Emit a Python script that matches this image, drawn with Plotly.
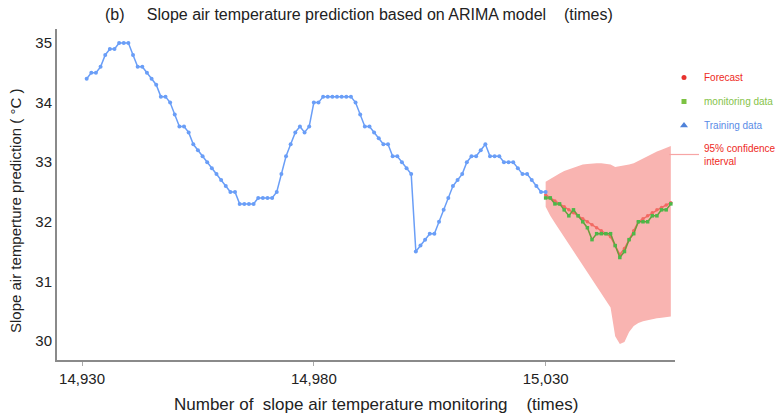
import plotly.graph_objects as go

# ---------------- data ----------------
train_x = list(range(14931, 15031))
train_y = [
    34.4, 34.5, 34.5, 34.6, 34.8, 34.9, 34.9, 35.0, 35.0, 35.0,
    34.8, 34.6, 34.6, 34.5, 34.4, 34.3, 34.1, 34.1, 34.0, 33.8,
    33.6, 33.6, 33.5, 33.3, 33.2, 33.1, 33.0, 32.9, 32.8, 32.7,
    32.6, 32.5, 32.5, 32.3, 32.3, 32.3, 32.3, 32.4, 32.4, 32.4,
    32.4, 32.5, 32.8, 33.1, 33.3, 33.5, 33.6, 33.5, 33.6, 34.0,
    34.0, 34.1, 34.1, 34.1, 34.1, 34.1, 34.1, 34.1, 34.0, 33.8,
    33.6, 33.6, 33.5, 33.4, 33.3, 33.3, 33.1, 33.1, 33.0, 32.9,
    32.8, 31.5, 31.6, 31.7, 31.8, 31.8, 32.0, 32.2, 32.4, 32.6,
    32.7, 32.8, 33.0, 33.1, 33.1, 33.2, 33.3, 33.1, 33.1, 33.1,
    33.0, 33.0, 33.0, 32.9, 32.8, 32.8, 32.7, 32.6, 32.5, 32.5,
]

fc_x = list(range(15030, 15058))
monitor_y = [
    32.4, 32.4, 32.3, 32.3, 32.2, 32.1, 32.2, 32.1, 32.0, 31.9,
    31.7, 31.8, 31.8, 31.8, 31.8, 31.6, 31.4, 31.5, 31.7, 31.8,
    32.0, 32.0, 32.0, 32.1, 32.1, 32.2, 32.2, 32.3,
]
forecast_y = [
    32.45, 32.40, 32.35, 32.30, 32.25, 32.20, 32.15, 32.10, 32.05, 32.00,
    31.95, 31.90, 31.85, 31.80, 31.75, 31.60, 31.45, 31.55, 31.70, 31.85,
    32.00, 32.05, 32.10, 32.15, 32.20, 32.24, 32.28, 32.32,
]
ci_upper = [
    32.67, 32.72, 32.77, 32.81, 32.85, 32.88, 32.91, 32.94, 32.96, 32.97,
    32.98, 32.98, 32.98, 32.97, 32.96, 32.92, 32.93, 32.95, 32.96, 32.98,
    33.02, 33.06, 33.10, 33.15, 33.18, 33.21, 33.24, 33.27,
]
ci_lower = [
    32.25, 32.10, 31.98, 31.86, 31.75, 31.62, 31.52, 31.40, 31.28, 31.15,
    31.03, 30.90, 30.78, 30.66, 30.56, 30.08, 29.95, 29.98, 30.15, 30.25,
    30.30, 30.33, 30.35, 30.36, 30.38, 30.39, 30.40, 30.41,
]

x_ticks = [14930, 14980, 15030]
x_ticklabels = ["14,930", "14,980", "15,030"]
y_ticks = [30, 31, 32, 33, 34, 35]

# ---------------- styles ----------------
BLUE = "#6A9EF7"
GREEN_LINE = "#6E9A3C"
GREEN_MK = "#4CB848"
RED = "#F26A63"
RED_TXT = "#EE2A24"
BAND = "#F9B4B1"
FONT = "Liberation Sans, Arial, sans-serif"
W, H = 782, 415
L, R, T, B = 57, 107, 29, 55

fig = go.Figure()

# confidence band
fig.add_trace(go.Scatter(x=fc_x, y=ci_upper, mode="lines", line=dict(width=0, color=BAND),
                         showlegend=False, hoverinfo="skip"))
fig.add_trace(go.Scatter(x=fc_x, y=ci_lower, mode="lines", line=dict(width=0, color=BAND),
                         fill="tonexty", fillcolor=BAND, showlegend=False, hoverinfo="skip"))

# forecast
fig.add_trace(go.Scatter(x=fc_x, y=forecast_y, mode="lines+markers",
                         line=dict(color=RED, width=1.5),
                         marker=dict(color=RED, size=3.5), showlegend=False))
# monitoring
fig.add_trace(go.Scatter(x=fc_x, y=monitor_y, mode="lines+markers",
                         line=dict(color=GREEN_LINE, width=1.5),
                         marker=dict(color=GREEN_MK, size=3.5, symbol="square"), showlegend=False))
# training
fig.add_trace(go.Scatter(x=train_x, y=train_y, mode="lines+markers",
                         line=dict(color=BLUE, width=1.5),
                         marker=dict(color=BLUE, size=4), showlegend=False))

# legend-only entries
fig.add_trace(go.Scatter(x=[None], y=[None], mode="markers",
                         marker=dict(color="#E8332E", size=5, symbol="circle"),
                         name=f"<span style='color:{RED_TXT}'>Forecast</span>", legendgroup="a"))
fig.add_trace(go.Scatter(x=[None], y=[None], mode="markers",
                         marker=dict(color="#7CC242", size=5, symbol="square"),
                         name="<span style='color:#86C34A'>monitoring data</span>", legendgroup="b"))
fig.add_trace(go.Scatter(x=[None], y=[None], mode="markers",
                         marker=dict(color="#4F82D9", size=7, symbol="triangle-up"),
                         name="<span style='color:#5A8BE6'>Training data</span>", legendgroup="c"))
fig.add_trace(go.Scatter(x=[None], y=[None], mode="lines",
                         line=dict(color="#F7A5A5", width=1.2),
                         name=f"<span style='color:{RED_TXT}'>95% confidence<br>interval</span>", legendgroup="d"))

pw, ph = W - L - R, H - T - B

fig.update_layout(
    width=W, height=H,
    margin=dict(l=L, r=R, t=T, b=B, autoexpand=False),
    paper_bgcolor="white", plot_bgcolor="white",
    font=dict(family=FONT, color="#222"),
    title=dict(text="(b)     Slope air temperature prediction based on ARIMA model    (times)",
               xref="container", x=105 / W, xanchor="left",
               yref="container", y=1 - 9 / H, yanchor="top",
               font=dict(size=16, color="#222", family=FONT)),
    legend=dict(xref="container", x=664 / W, xanchor="left",
                yref="container", y=1 - 63 / H, yanchor="top",
                font=dict(size=10, family=FONT), tracegroupgap=5,
                traceorder="grouped", bgcolor="rgba(0,0,0,0)", itemwidth=30),
    showlegend=True,
    annotations=[
        dict(text="Slope air temperture prediction ( °C )", xref="paper", yref="paper",
             x=0, xshift=15 - L, xanchor="center",
             y=(ph - (335 - T)) / ph, yanchor="bottom",
             textangle=-90, showarrow=False, font=dict(size=15, color="#222", family=FONT)),
        dict(text="Number of  slope air temperature monitoring    (times)", xref="paper", yref="paper",
             x=(376 - L) / pw, xanchor="center",
             y=-(404 - (H - B)) / ph, yanchor="middle",
             showarrow=False, font=dict(size=17, color="#222", family=FONT)),
    ],
)

fig.update_xaxes(
    range=[14924.6, 15057.9], automargin=False,
    tickvals=x_ticks, ticktext=x_ticklabels,
    showgrid=False, zeroline=False,
    showline=True, linecolor="#8a8a8a", linewidth=2,
    ticks="outside", ticklen=4, tickcolor="#aaaaaa",
    tickfont=dict(size=15, color="#222"),
)
fig.update_yaxes(
    range=[29.68, 35.235], automargin=False,
    tickvals=y_ticks,
    showgrid=False, zeroline=False,
    showline=True, linecolor="#8a8a8a", linewidth=2,
    ticks="", tickfont=dict(size=15, color="#222"),
)

fig.write_html("out.html", config={"displayModeBar": False},
               post_script="document.body.style.margin='0';document.body.style.overflow='hidden';")
